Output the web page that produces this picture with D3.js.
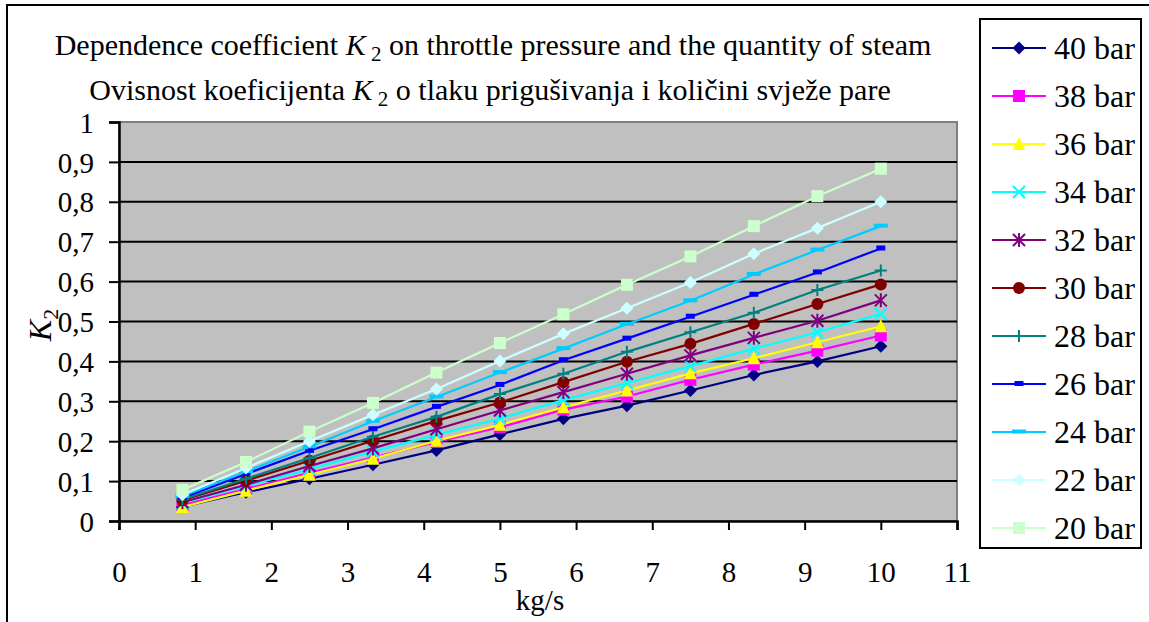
<!DOCTYPE html>
<html>
<head>
<meta charset="utf-8">
<script src="https://cdn.jsdelivr.net/npm/d3@7"></script>
<style>
  body { margin: 0; background: #fff; }
  svg { display: block; }
  text { font-family: "Liberation Serif", "Times New Roman", serif; }
</style>
</head>
<body>
<svg id="plot"></svg>
<script>
// Define data
const xValues = [0.833, 1.667, 2.5, 3.333, 4.167, 5, 5.833, 6.667, 7.5, 8.333, 9.167, 10];
const seriesNames = ["40 bar", "38 bar", "36 bar", "34 bar", "32 bar", "30 bar", "28 bar", "26 bar", "24 bar", "22 bar", "20 bar"];
const bar40 = [0.036, 0.072, 0.106, 0.141, 0.177, 0.217, 0.256, 0.289, 0.327, 0.366, 0.400, 0.438];
const bar38 = [0.040, 0.080, 0.121, 0.159, 0.198, 0.235, 0.279, 0.312, 0.354, 0.392, 0.427, 0.465];
const bar36 = [0.035, 0.076, 0.116, 0.156, 0.201, 0.241, 0.285, 0.327, 0.370, 0.408, 0.448, 0.488];
const bar34 = [0.045, 0.088, 0.130, 0.174, 0.216, 0.257, 0.303, 0.346, 0.388, 0.432, 0.473, 0.519];
const bar32 = [0.047, 0.091, 0.138, 0.182, 0.230, 0.277, 0.323, 0.369, 0.415, 0.459, 0.502, 0.553];
const bar30 = [0.052, 0.101, 0.151, 0.201, 0.251, 0.297, 0.348, 0.399, 0.444, 0.494, 0.544, 0.593];
const bar28 = [0.054, 0.106, 0.158, 0.211, 0.261, 0.318, 0.369, 0.424, 0.473, 0.522, 0.579, 0.628];
const bar26 = [0.058, 0.118, 0.176, 0.230, 0.286, 0.341, 0.403, 0.457, 0.512, 0.567, 0.623, 0.683];
const bar24 = [0.062, 0.124, 0.186, 0.250, 0.311, 0.372, 0.432, 0.493, 0.552, 0.618, 0.679, 0.739];
const bar22 = [0.066, 0.133, 0.200, 0.266, 0.331, 0.401, 0.469, 0.533, 0.598, 0.670, 0.734, 0.800];
const bar20 = [0.078, 0.148, 0.224, 0.296, 0.372, 0.446, 0.518, 0.592, 0.663, 0.739, 0.814, 0.883];
const seriesValues = [bar40, bar38, bar36, bar34, bar32, bar30, bar28, bar26, bar24, bar22, bar20];
const xTicks = [0, 1, 2, 3, 4, 5, 6, 7, 8, 9, 10, 11];
const yTicks = [0, 0.1, 0.2, 0.3, 0.4, 0.5, 0.6, 0.7, 0.8, 0.9, 1];
const yTickLabels = ["0", "0,1", "0,2", "0,3", "0,4", "0,5", "0,6", "0,7", "0,8", "0,9", "1"];

// Styles per series: colour and marker
const colors = ["#000080", "#FF00FF", "#FFFF00", "#00FFFF", "#800080", "#800000", "#008080", "#0000FF", "#00CCFF", "#CCFFFF", "#CCFFCC"];
const markers = ["diamond", "square", "triangle", "times", "asterisk", "circle", "plus", "dash", "longdash", "diamond", "square"];

const FONT = "'Liberation Serif', 'Times New Roman', serif";
const W = 1149, H = 622;
const plot = { left: 119, top: 122, right: 957, bottom: 521 };

const svg = d3.select("#plot")
    .attr("width", W).attr("height", H)
    .attr("font-family", FONT);

// Chart frame
svg.append("rect")
    .attr("x", 7).attr("y", 5)
    .attr("width", 1170).attr("height", 660)
    .attr("fill", "#fff").attr("stroke", "#000").attr("stroke-width", 2);

// Scales
const x = d3.scaleLinear().domain([0, 11]).range([plot.left, plot.right]);
const y = d3.scaleLinear().domain([0, 1]).range([plot.bottom, plot.top]);

// Plot area
svg.append("rect")
    .attr("x", plot.left).attr("y", plot.top)
    .attr("width", plot.right - plot.left).attr("height", plot.bottom - plot.top)
    .attr("fill", "#C0C0C0").attr("stroke", "#808080").attr("stroke-width", 2);

// Gridlines
svg.append("g").selectAll("line")
    .data(yTicks.filter(d => d > 0 && d < 1))
    .enter().append("line")
    .attr("x1", plot.left).attr("x2", plot.right)
    .attr("y1", d => y(d)).attr("y2", d => y(d))
    .attr("stroke", "#000").attr("stroke-width", 2);

// Axes
const yAxis = svg.append("g")
    .attr("transform", `translate(${plot.left},0)`)
    .call(d3.axisLeft(y).tickValues(yTicks).tickSize(10).tickPadding(15)
        .tickFormat((d, i) => yTickLabels[i]));
const xAxis = svg.append("g")
    .attr("transform", `translate(0,${plot.bottom})`)
    .call(d3.axisBottom(x).tickValues(xTicks).tickSize(9)
        .tickFormat(d3.format("d")));

[xAxis, yAxis].forEach(a => {
    a.attr("font-family", FONT).attr("font-size", 29);
    a.select(".domain").attr("stroke", "#000").attr("stroke-width", 2.5);
    a.selectAll(".tick line").attr("stroke", "#000").attr("stroke-width", 2);
    a.selectAll(".tick text").attr("fill", "#000");
});
yAxis.selectAll(".tick text").attr("dy", "0.35em");
xAxis.selectAll(".tick text").attr("y", 61).attr("dy", 0);

// Marker drawing
function drawMarker(g, type, color) {
    switch (type) {
        case "diamond":
            g.append("path").attr("d", "M0,-6.5L6.5,0L0,6.5L-6.5,0Z").attr("fill", color);
            break;
        case "square":
            g.append("rect").attr("x", -6).attr("y", -6).attr("width", 12).attr("height", 12).attr("fill", color);
            break;
        case "triangle":
            g.append("path").attr("d", "M0,-7L6.5,6L-6.5,6Z").attr("fill", color);
            break;
        case "times":
            g.append("path").attr("d", "M-6,-6L6,6M-6,6L6,-6").attr("stroke", color).attr("stroke-width", 2).attr("fill", "none");
            break;
        case "asterisk":
            g.append("path").attr("d", "M-6,-6L6,6M-6,6L6,-6M0,-7L0,7").attr("stroke", color).attr("stroke-width", 2).attr("fill", "none");
            break;
        case "circle":
            g.append("circle").attr("r", 6).attr("fill", color);
            break;
        case "plus":
            g.append("path").attr("d", "M-6,0L6,0M0,-6L0,6").attr("stroke", color).attr("stroke-width", 2).attr("fill", "none");
            break;
        case "dash":
            g.append("rect").attr("x", -4.5).attr("y", -3).attr("width", 9).attr("height", 5).attr("fill", color);
            break;
        case "longdash":
            g.append("rect").attr("x", -7).attr("y", -2.5).attr("width", 14).attr("height", 4).attr("fill", color);
            break;
    }
}

// Lines and markers
const line = d3.line().x((d, i) => x(xValues[i])).y(d => y(d));
seriesValues.forEach((vals, s) => {
    const g = svg.append("g");
    g.append("path")
        .attr("d", line(vals))
        .attr("fill", "none")
        .attr("stroke", colors[s])
        .attr("stroke-width", 2.2);
    g.selectAll("g.pt")
        .data(vals)
        .enter().append("g")
        .attr("class", "pt")
        .attr("transform", (d, i) => `translate(${x(xValues[i])},${y(d)})`)
        .each(function() { drawMarker(d3.select(this), markers[s], colors[s]); });
});

// Title
const title = svg.append("g").attr("font-size", 30).attr("text-anchor", "middle");
function k2Text(parent, before, after, xc, yc) {
    const t = parent.append("text").attr("x", xc).attr("y", yc).attr("font-family", FONT);
    t.append("tspan").text(before);
    t.append("tspan").attr("font-style", "italic").text("K");
    t.append("tspan").attr("font-size", 21).attr("dy", 6).text(" 2");
    t.append("tspan").attr("dy", -6).text(after);
    return t;
}
k2Text(title, "Dependence coefficient ", " on throttle pressure and the quantity of steam", 493, 55);
k2Text(title, "Ovisnost koeficijenta ", " o tlaku prigušivanja i količini svježe pare", 490, 100);

// Axis labels
svg.append("text")
    .attr("x", 540).attr("y", 610)
    .attr("text-anchor", "middle")
    .attr("font-family", FONT)
    .attr("font-size", 29)
    .text("kg/s");

const yl = svg.append("text")
    .attr("transform", "translate(51,325) rotate(-90)")
    .attr("text-anchor", "middle")
    .attr("font-family", FONT)
    .attr("font-size", 32);
yl.append("tspan").attr("font-style", "italic").text("K");
yl.append("tspan").attr("font-size", 22).attr("dy", 7).text("2");

// Legend
const legend = svg.append("g");
legend.append("rect")
    .attr("x", 980).attr("y", 19)
    .attr("width", 161).attr("height", 529)
    .attr("fill", "#fff").attr("stroke", "#000").attr("stroke-width", 2);
const ly = d3.scalePoint().domain(seriesNames).range([48, 528]);
seriesNames.forEach((name, s) => {
    const row = legend.append("g").attr("transform", `translate(0,${ly(name)})`);
    row.append("line")
        .attr("x1", 992).attr("x2", 1046)
        .attr("stroke", colors[s]).attr("stroke-width", 2.2);
    drawMarker(row.append("g").attr("transform", "translate(1019,0)"), markers[s], colors[s]);
    row.append("text")
        .attr("x", 1054).attr("dy", "0.35em")
        .attr("font-family", FONT)
        .attr("font-size", 32)
        .text(name);
});
</script>
</body>
</html>
